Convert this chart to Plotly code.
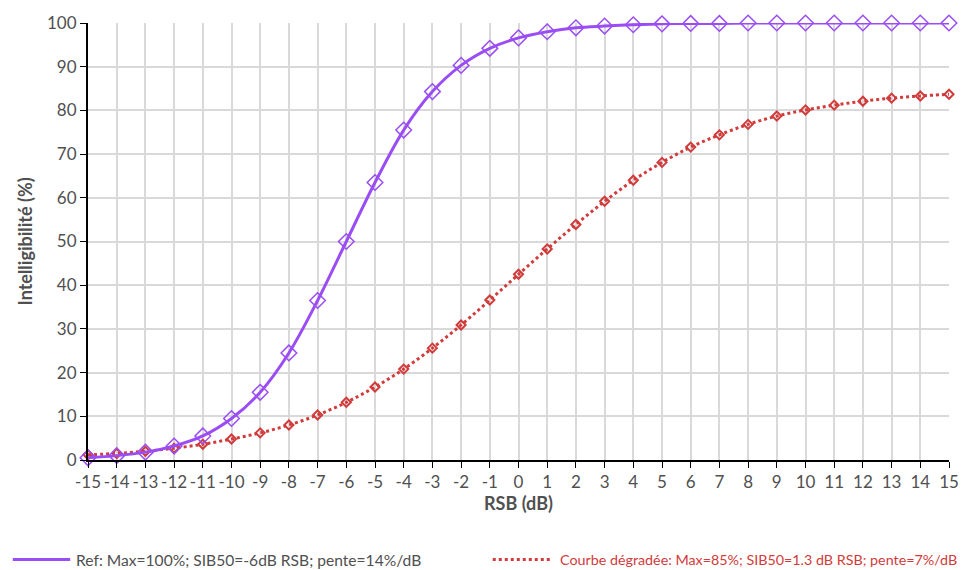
import plotly.graph_objects as go

rsb = list(range(-15, 16))
ref_vals = [0.5, 1.0, 1.8, 3.2, 5.5, 9.5, 15.5, 24.5, 36.5, 50.0, 63.5, 75.5, 84.3, 90.3, 94.2,
            96.6, 98.0, 98.9, 99.3, 99.6, 99.8, 99.9, 99.9, 100, 100, 100, 100, 100, 100, 100, 100]
deg_vals = [1.2, 1.5, 2.0, 2.7, 3.6, 4.8, 6.2, 8.0, 10.3, 13.2, 16.7, 20.8, 25.6, 30.9, 36.6,
            42.5, 48.3, 53.9, 59.2, 64.0, 68.1, 71.6, 74.4, 76.8, 78.7, 80.1, 81.2, 82.1, 82.8, 83.3, 83.7]
y_ticks = list(range(0, 101, 10))
ref_name = "Ref: Max=100%; SIB50=-6dB RSB; pente=14%/dB"
deg_name = "Courbe dégradée: Max=85%; SIB50=1.3 dB RSB; pente=7%/dB"

purple = "#9B4DF5"
red = "#D13B3B"
txt = "#505050"
font = "Lato"

# plot area geometry (pixels)
W, H = 971, 570
L, R, T, B = 88, 13, 21, 110
pw, ph = W - L - R, H - T - B

def px_x(p):
    return (p - L) / pw

def px_y(p):
    return (H - B - p) / ph

fig = go.Figure()
fig.add_trace(go.Scatter(x=rsb, y=deg_vals, mode="lines+markers", name=deg_name, showlegend=False,
                         cliponaxis=False,
                         line=dict(color=red, width=3, dash="dot", shape="spline"),
                         marker=dict(symbol="diamond-open", size=7, color=red, line=dict(width=2))))
fig.add_trace(go.Scatter(x=rsb, y=ref_vals, mode="lines+markers", name=ref_name, showlegend=False,
                         cliponaxis=False,
                         line=dict(color=purple, width=3, shape="spline"),
                         marker=dict(symbol="diamond-open", size=12, color=purple, line=dict(width=1.5))))

# custom legend (line samples + texts)
ly = px_y(560)
fig.add_shape(type="line", xref="paper", yref="paper", x0=px_x(12), x1=px_x(70), y0=ly, y1=ly,
              line=dict(color=purple, width=3))
fig.add_shape(type="line", xref="paper", yref="paper", x0=px_x(497), x1=px_x(555), y0=ly, y1=ly,
              line=dict(color=red, width=3, dash="dot"))
fig.add_annotation(xref="paper", yref="paper", x=px_x(74), y=ly, xanchor="left", yanchor="middle",
                   text=ref_name, showarrow=False, font=dict(family=font, size=15.6, color=txt))
fig.add_annotation(xref="paper", yref="paper", x=px_x(968), y=ly, xanchor="right", yanchor="middle",
                   text=deg_name, showarrow=False, font=dict(family=font, size=14.3, color=red))

fig.update_layout(
    width=W, height=H,
    margin=dict(l=L, r=R, t=T, b=B),
    plot_bgcolor="white", paper_bgcolor="white",
    font=dict(family=font, color=txt, size=17),
    showlegend=False,
)
fig.update_xaxes(range=[-15, 15], tickmode="array", tickvals=rsb, ticktext=[str(v) for v in rsb],
                 showgrid=True, gridcolor="#d9d9d9", gridwidth=1.5,
                 showline=True, linecolor="black", linewidth=2,
                 ticks="outside", ticklen=6, tickcolor="black", tickangle=0,
                 tickfont=dict(size=17, color=txt),
                 title=dict(text="<b>RSB (dB)</b>", font=dict(size=18, color=txt), standoff=4),
                 zeroline=False)
fig.update_yaxes(range=[0, 100], tickmode="array", tickvals=y_ticks,
                 showgrid=True, gridcolor="#d9d9d9", gridwidth=1.5,
                 showline=True, linecolor="black", linewidth=2,
                 ticks="outside", ticklen=6, tickcolor="black",
                 tickfont=dict(size=17, color=txt),
                 title=dict(text="<b>Intelligibilité (%)</b>", font=dict(size=18, color=txt), standoff=10),
                 zeroline=False)

fig.write_html("out.html", config={"displayModeBar": False},
               post_script="document.body.style.margin='0';document.body.style.padding='0';")
